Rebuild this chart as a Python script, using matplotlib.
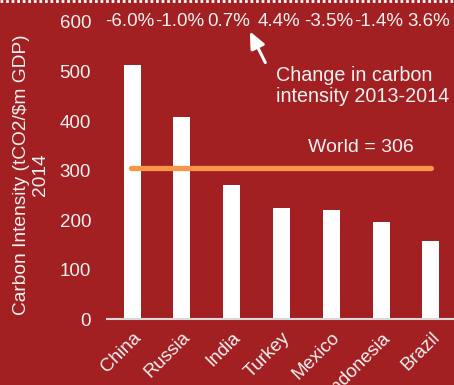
import matplotlib
matplotlib.use("Agg")
import matplotlib.pyplot as plt
import numpy as np

plt.rcParams['font.family'] = ['Liberation Sans', 'DejaVu Sans']

countries = ["China", "Russia", "India", "Turkey", "Mexico", "Indonesia", "Brazil"]
intensity = [514, 409, 270, 225, 221, 196, 158]
change = ["-6.0%", "-1.0%", "0.7%", "4.4%", "-3.5%", "-1.4%", "3.6%"]
world = 306

bg = "#A21F22"
fg = "#F2F2F2"
fs = 13.5

fig = plt.figure(figsize=(4.54, 3.85), dpi=100, facecolor=bg)
ax = fig.add_axes([0.236, 0.171, 0.768, 0.772], facecolor=bg)

x = np.arange(len(countries))
ax.bar(x, intensity, width=0.34, color="white", zorder=2)
ax.plot([x[0] - 0.02, x[-1]], [world, world], color="#F79646", lw=3.8,
        solid_capstyle="round", zorder=3)
ax.text(4.6, world + 41, "World = 306", color=fg, fontsize=14, ha="center", va="center")

# percentage change above each bar
for xi, c in zip(x, change):
    ax.text(xi - 0.05, 600, c, color=fg, fontsize=fs, ha="center", va="center", clip_on=False)

ax.annotate("", xy=(2.34, 586), xytext=(2.7, 513),
            arrowprops=dict(arrowstyle="-|>,head_width=0.45,head_length=1.0",
                            color="white", lw=2.2))
ax.text(2.88, 471, "Change in carbon\nintensity 2013-2014", color=fg, fontsize=14.2,
        ha="left", va="center", linespacing=1.1)

ax.set_xlim(-0.5, 6.5)
ax.set_ylim(0, 600)
ax.set_yticks(range(0, 601, 100))
ax.set_xticks(x)
ax.set_xticklabels(countries, rotation=45, ha="right", rotation_mode="anchor")
ax.tick_params(axis="both", length=0, colors=fg, labelsize=fs)
ax.tick_params(axis="y", pad=11.5)
ax.tick_params(axis="x", pad=7)
for s in ["top", "right", "left"]:
    ax.spines[s].set_visible(False)
ax.spines["bottom"].set_color("#D9D9D9")
ax.spines["bottom"].set_linewidth(1.5)

fig.text(0.068, 0.545, "Carbon Intensity (tCO2/$m GDP)\n2014", rotation=90, color=fg,
         fontsize=13.8, ha="center", va="center", multialignment="center", linespacing=1.1)

# dotted rule along the top edge
fig.add_artist(plt.Line2D([0, 1], [0.997, 0.997], transform=fig.transFigure,
                          color="white", lw=2, ls=(0, (1, 1))))

fig.savefig("out.png", dpi=100, facecolor=bg)
